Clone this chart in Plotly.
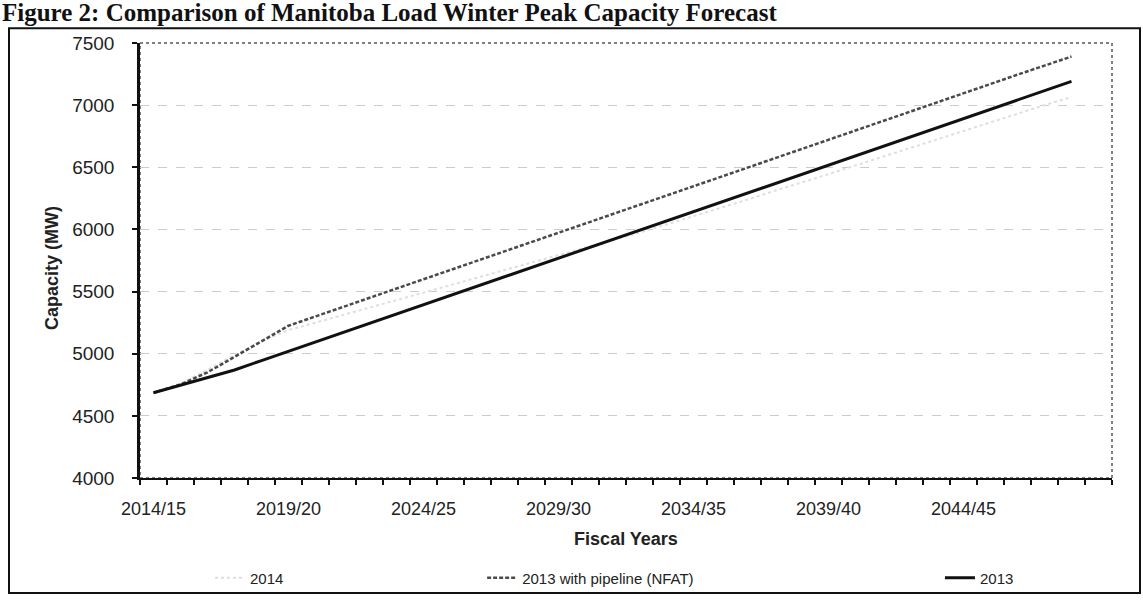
import plotly.graph_objects as go

# Fiscal-year categories on the horizontal axis
fiscal_years = [
    "2014/15", "2015/16", "2016/17", "2017/18", "2018/19", "2019/20",
    "2020/21", "2021/22", "2022/23", "2023/24", "2024/25", "2025/26",
    "2026/27", "2027/28", "2028/29", "2029/30", "2030/31", "2031/32",
    "2032/33", "2033/34", "2034/35", "2035/36", "2036/37", "2037/38",
    "2038/39", "2039/40", "2040/41", "2041/42", "2042/43", "2043/44",
    "2044/45", "2045/46", "2046/47", "2047/48", "2048/49", "2049/50",
]

# Winter peak capacity forecasts (MW)
load_2014 = [
    4686, 4760, 4870, 4990, 5100, 5190, 5250, 5310, 5370, 5430,
    5490, 5550, 5610, 5670, 5730, 5790, 5850, 5910, 5975, 6040,
    6105, 6170, 6240, 6310, 6375, 6445, 6515, 6585, 6655, 6725,
    6790, 6860, 6930, 7000, 7065,
]
load_2013_nfat = [
    4686, 4752, 4850, 4975, 5105, 5225, 5300, 5375, 5450, 5525,
    5600, 5675, 5750, 5825, 5900, 5975, 6050, 6125, 6200, 6275,
    6350, 6425, 6500, 6575, 6650, 6725, 6800, 6875, 6950, 7025,
    7100, 7170, 7245, 7318, 7391,
]
load_2013 = [
    4686, 4748, 4808, 4869, 4945, 5020, 5095, 5170, 5245, 5320,
    5395, 5470, 5545, 5620, 5695, 5770, 5845, 5920, 5995, 6070,
    6145, 6220, 6295, 6370, 6445, 6520, 6595, 6670, 6745, 6820,
    6895, 6970, 7045, 7118, 7191,
]

y_ticks = [4000, 4500, 5000, 5500, 6000, 6500, 7000, 7500]
label_every = 5

FONT = "Liberation Sans, Arial, sans-serif"

# plot-area geometry in pixels (used to place the panel frame and titles)
L, R, T, B = 140, 1112, 43, 482
PW, PH = R - L, B - T


def px_x(x):
    return (x - L) / PW


def px_y(y):
    return (B - y) / PH


fig = go.Figure()

fig.add_trace(go.Scatter(
    x=list(range(len(load_2014))), y=load_2014, name="2014",
    mode="lines", line=dict(color="#dedede", width=2, dash="dot"),
    legend="legend",
))
fig.add_trace(go.Scatter(
    x=list(range(len(load_2013_nfat))), y=load_2013_nfat,
    name="2013 with pipeline (NFAT)",
    mode="lines", line=dict(color="#4a4a4a", width=2.5, dash="4px,2px"),
    legend="legend2",
))
fig.add_trace(go.Scatter(
    x=list(range(len(load_2013))), y=load_2013, name="2013",
    mode="lines", line=dict(color="#111111", width=3),
    legend="legend3",
))

tick_idx = list(range(0, len(fiscal_years) - 1, label_every))

fig.update_xaxes(
    range=[-0.5, len(fiscal_years) - 0.5],
    tickmode="array",
    tickvals=tick_idx,
    ticktext=[fiscal_years[i] for i in tick_idx],
    ticks="outside", ticklen=5, tickcolor="rgba(0,0,0,0)",
    ticklabelstandoff=9,
    minor=dict(
        tickmode="array",
        tickvals=[i - 0.5 for i in range(len(fiscal_years) + 1)],
        ticks="outside", ticklen=5, tickwidth=1.5, tickcolor="#111111",
        showgrid=False,
    ),
    showgrid=False, zeroline=False,
    showline=True, linecolor="#111111", linewidth=1.5,
    tickfont=dict(family=FONT, size=18, color="#222222"),
    title=dict(text="<b>Fiscal Years</b>", standoff=14,
               font=dict(family=FONT, size=18, color="#222222")),
)

fig.update_yaxes(
    range=[y_ticks[0], y_ticks[-1]],
    tickmode="array", tickvals=y_ticks,
    ticks="outside", ticklen=5, tickwidth=1.5, tickcolor="#111111",
    ticklabelstandoff=14,
    showgrid=True, gridcolor="#cccccc", gridwidth=1, griddash="dash",
    zeroline=False,
    showline=True, linecolor="#111111", linewidth=2.5,
    tickfont=dict(family=FONT, size=19, color="#222222"),
)

legend_common = dict(
    orientation="h", yanchor="middle", xanchor="left",
    font=dict(family=FONT, size=15, color="#222222"),
    bgcolor="rgba(0,0,0,0)", itemwidth=30,
)
legend_y = px_y(583)

fig.update_layout(
    width=1143, height=606,
    margin=dict(l=L, r=1143 - R, t=T, b=606 - B),
    paper_bgcolor="white", plot_bgcolor="white",
    showlegend=True,
    legend=dict(x=0.072, y=legend_y, **legend_common),
    legend2=dict(x=0.352, y=legend_y, **legend_common),
    legend3=dict(x=0.823, y=legend_y, **legend_common),
    shapes=[
        # dotted frame around the plotting area
        dict(type="rect", xref="paper", yref="paper", x0=0, y0=0, x1=1, y1=1,
             line=dict(color="#555555", width=1.5, dash="dot"), layer="below"),
        # outer border of the figure panel
        dict(type="rect", xref="paper", yref="paper",
             x0=px_x(9), x1=px_x(1140), y0=px_y(598), y1=px_y(28),
             line=dict(color="#111111", width=2)),
    ],
    annotations=[
        dict(text="<b>Figure 2: Comparison of Manitoba Load Winter Peak Capacity Forecast</b>",
             xref="paper", yref="paper", x=px_x(0), y=px_y(-3),
             xanchor="left", yanchor="top", showarrow=False,
             font=dict(family="Liberation Serif, Times New Roman, serif",
                       size=25, color="#111111")),
        dict(text="<b>Capacity (MW)</b>", textangle=-90,
             xref="paper", yref="paper", x=px_x(52), y=px_y(270),
             xanchor="center", yanchor="middle", showarrow=False,
             font=dict(family=FONT, size=18, color="#222222")),
    ],
)

fig.write_html("out.html")
